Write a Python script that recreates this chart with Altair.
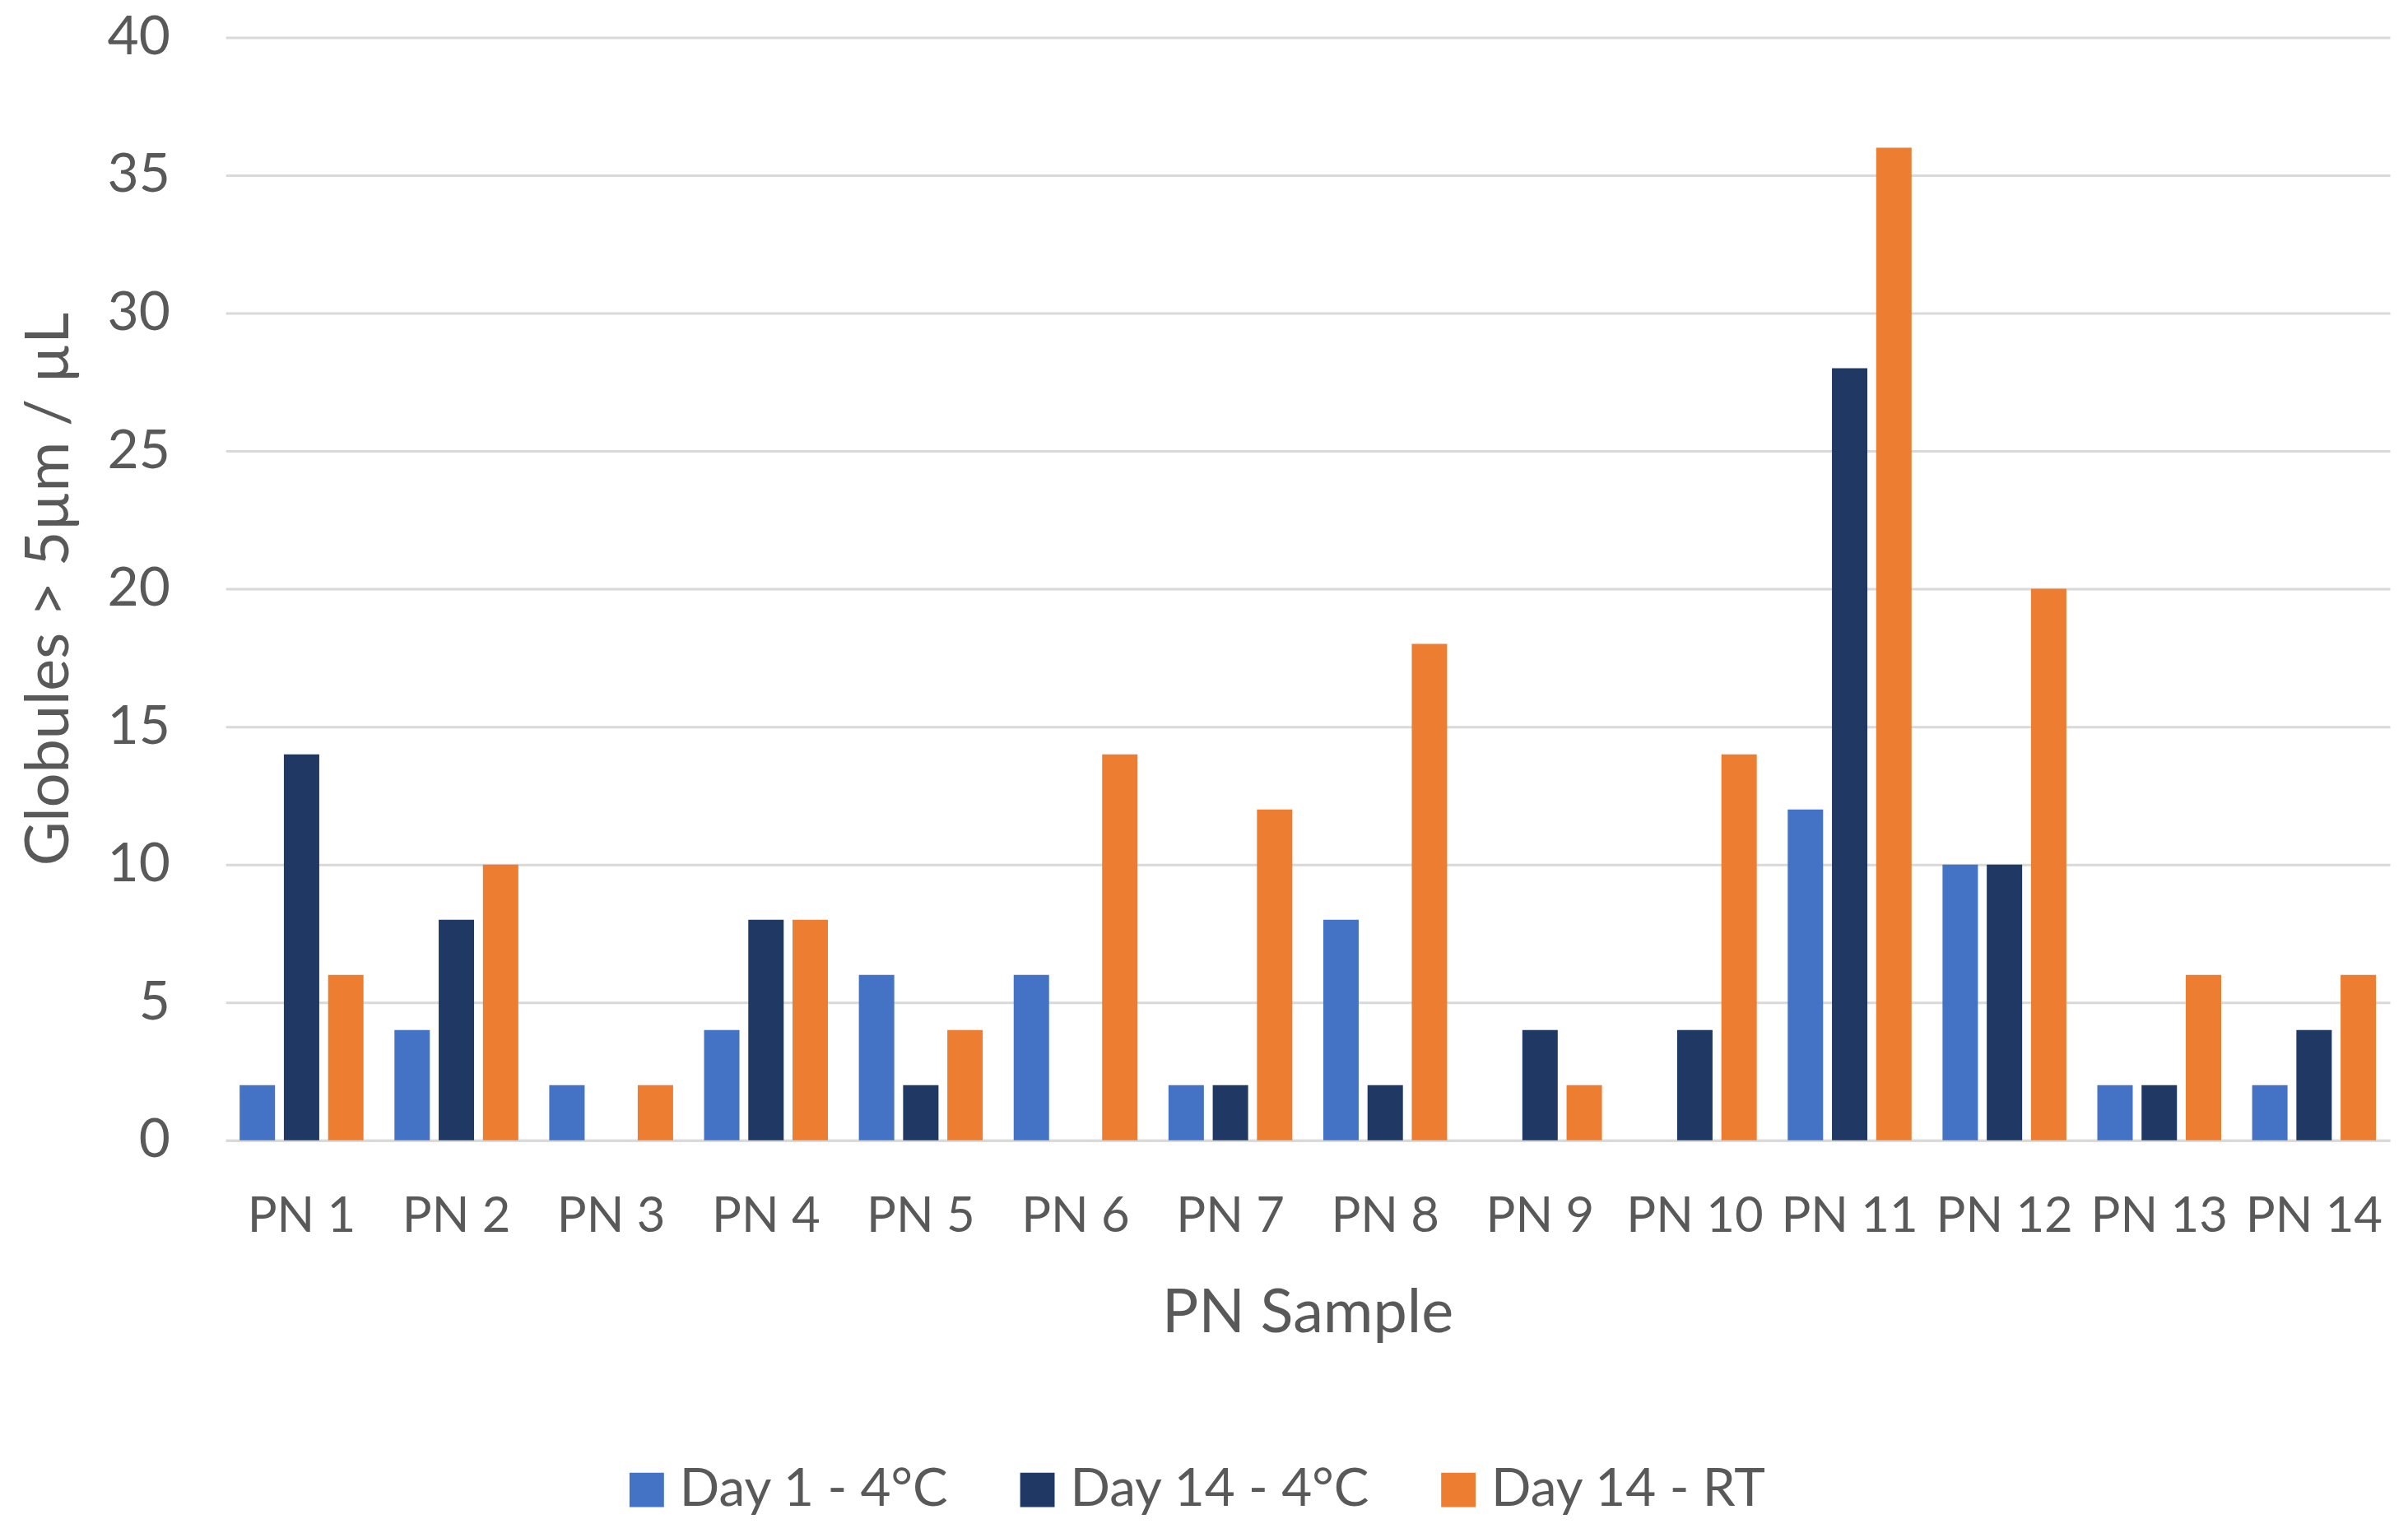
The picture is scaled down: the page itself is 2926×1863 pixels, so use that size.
import altair as alt
import pandas as pd

samples = ["PN 1", "PN 2", "PN 3", "PN 4", "PN 5", "PN 6", "PN 7",
           "PN 8", "PN 9", "PN 10", "PN 11", "PN 12", "PN 13", "PN 14"]
series = ["Day 1 - 4°C", "Day 14 - 4°C", "Day 14 - RT"]
day1_4c = [2, 4, 2, 4, 6, 6, 2, 8, 0, 0, 12, 10, 2, 2]
day14_4c = [14, 8, 0, 8, 2, 0, 2, 2, 4, 4, 28, 10, 2, 4]
day14_rt = [6, 10, 2, 8, 4, 14, 12, 18, 2, 14, 36, 20, 6, 6]
y_ticks = [0, 5, 10, 15, 20, 25, 30, 35, 40]
colors = ["#4472C4", "#203864", "#ED7D31"]

rows = []
for name, vals in zip(series, [day1_4c, day14_4c, day14_rt]):
    for s, v in zip(samples, vals):
        rows.append({"sample": s, "series": name, "value": v})
df = pd.DataFrame(rows)

FONT = "Lato"
TXT = "#595959"

chart = alt.Chart(df).mark_bar().encode(
    x=alt.X("sample:N", sort=samples,
            scale=alt.Scale(paddingInner=0.2, paddingOuter=0.09),
            axis=alt.Axis(title="PN Sample", labelAngle=0, domain=True,
                          domainColor="#d9d9d9", domainWidth=3, ticks=False,
                          tickSize=0, labelPadding=111, labelBaseline="alphabetic",
                          labelFontSize=60, labelFont=FONT, labelColor=TXT,
                          labelLimit=0, labelOverlap=False,
                          titleFontSize=74, titleFont=FONT, titleColor=TXT,
                          titleFontWeight="normal", titleX=1318, titleY=233,
                          titleBaseline="alphabetic", titleAlign="center",
                          grid=False)),
    xOffset=alt.XOffset("series:N", sort=series,
                        scale=alt.Scale(paddingInner=0.2, paddingOuter=0)),
    y=alt.Y("value:Q", scale=alt.Scale(domain=[0, 40], nice=False),
            axis=alt.Axis(title="Globules > 5\u00b5m / \u00b5L", values=y_ticks,
                          domain=False, ticks=False, tickSize=0, labelPadding=68,
                          labelFontSize=66, labelFont=FONT, labelColor=TXT,
                          labelBaseline="middle",
                          titleFontSize=74, titleFont=FONT, titleColor=TXT,
                          titleFontWeight="normal", titleX=-192, titleY=672,
                          titleAngle=270, titleBaseline="alphabetic",
                          titleAlign="center",
                          grid=True, gridColor="#d9d9d9", gridWidth=3)),
    color=alt.Color("series:N", sort=series,
                    scale=alt.Scale(domain=series, range=colors),
                    legend=alt.Legend(title=None, orient="none", legendX=481,
                                      legendY=1738, direction="horizontal",
                                      labelFontSize=64, labelFont=FONT,
                                      labelColor=TXT, labelLimit=0,
                                      symbolType="square",
                                      symbolSize=1764, symbolStrokeWidth=0,
                                      symbolOpacity=1, labelOffset=8,
                                      columnPadding=75, padding=0)),
).properties(
    width=2637, height=1344,
    autosize=alt.AutoSizeParams(type="none"),
    padding={"left": 267, "top": 35, "right": 14, "bottom": 470},
    background="white",
).configure_view(strokeWidth=0)

chart.save("out.html", embed_options={"renderer": "svg", "actions": False})
